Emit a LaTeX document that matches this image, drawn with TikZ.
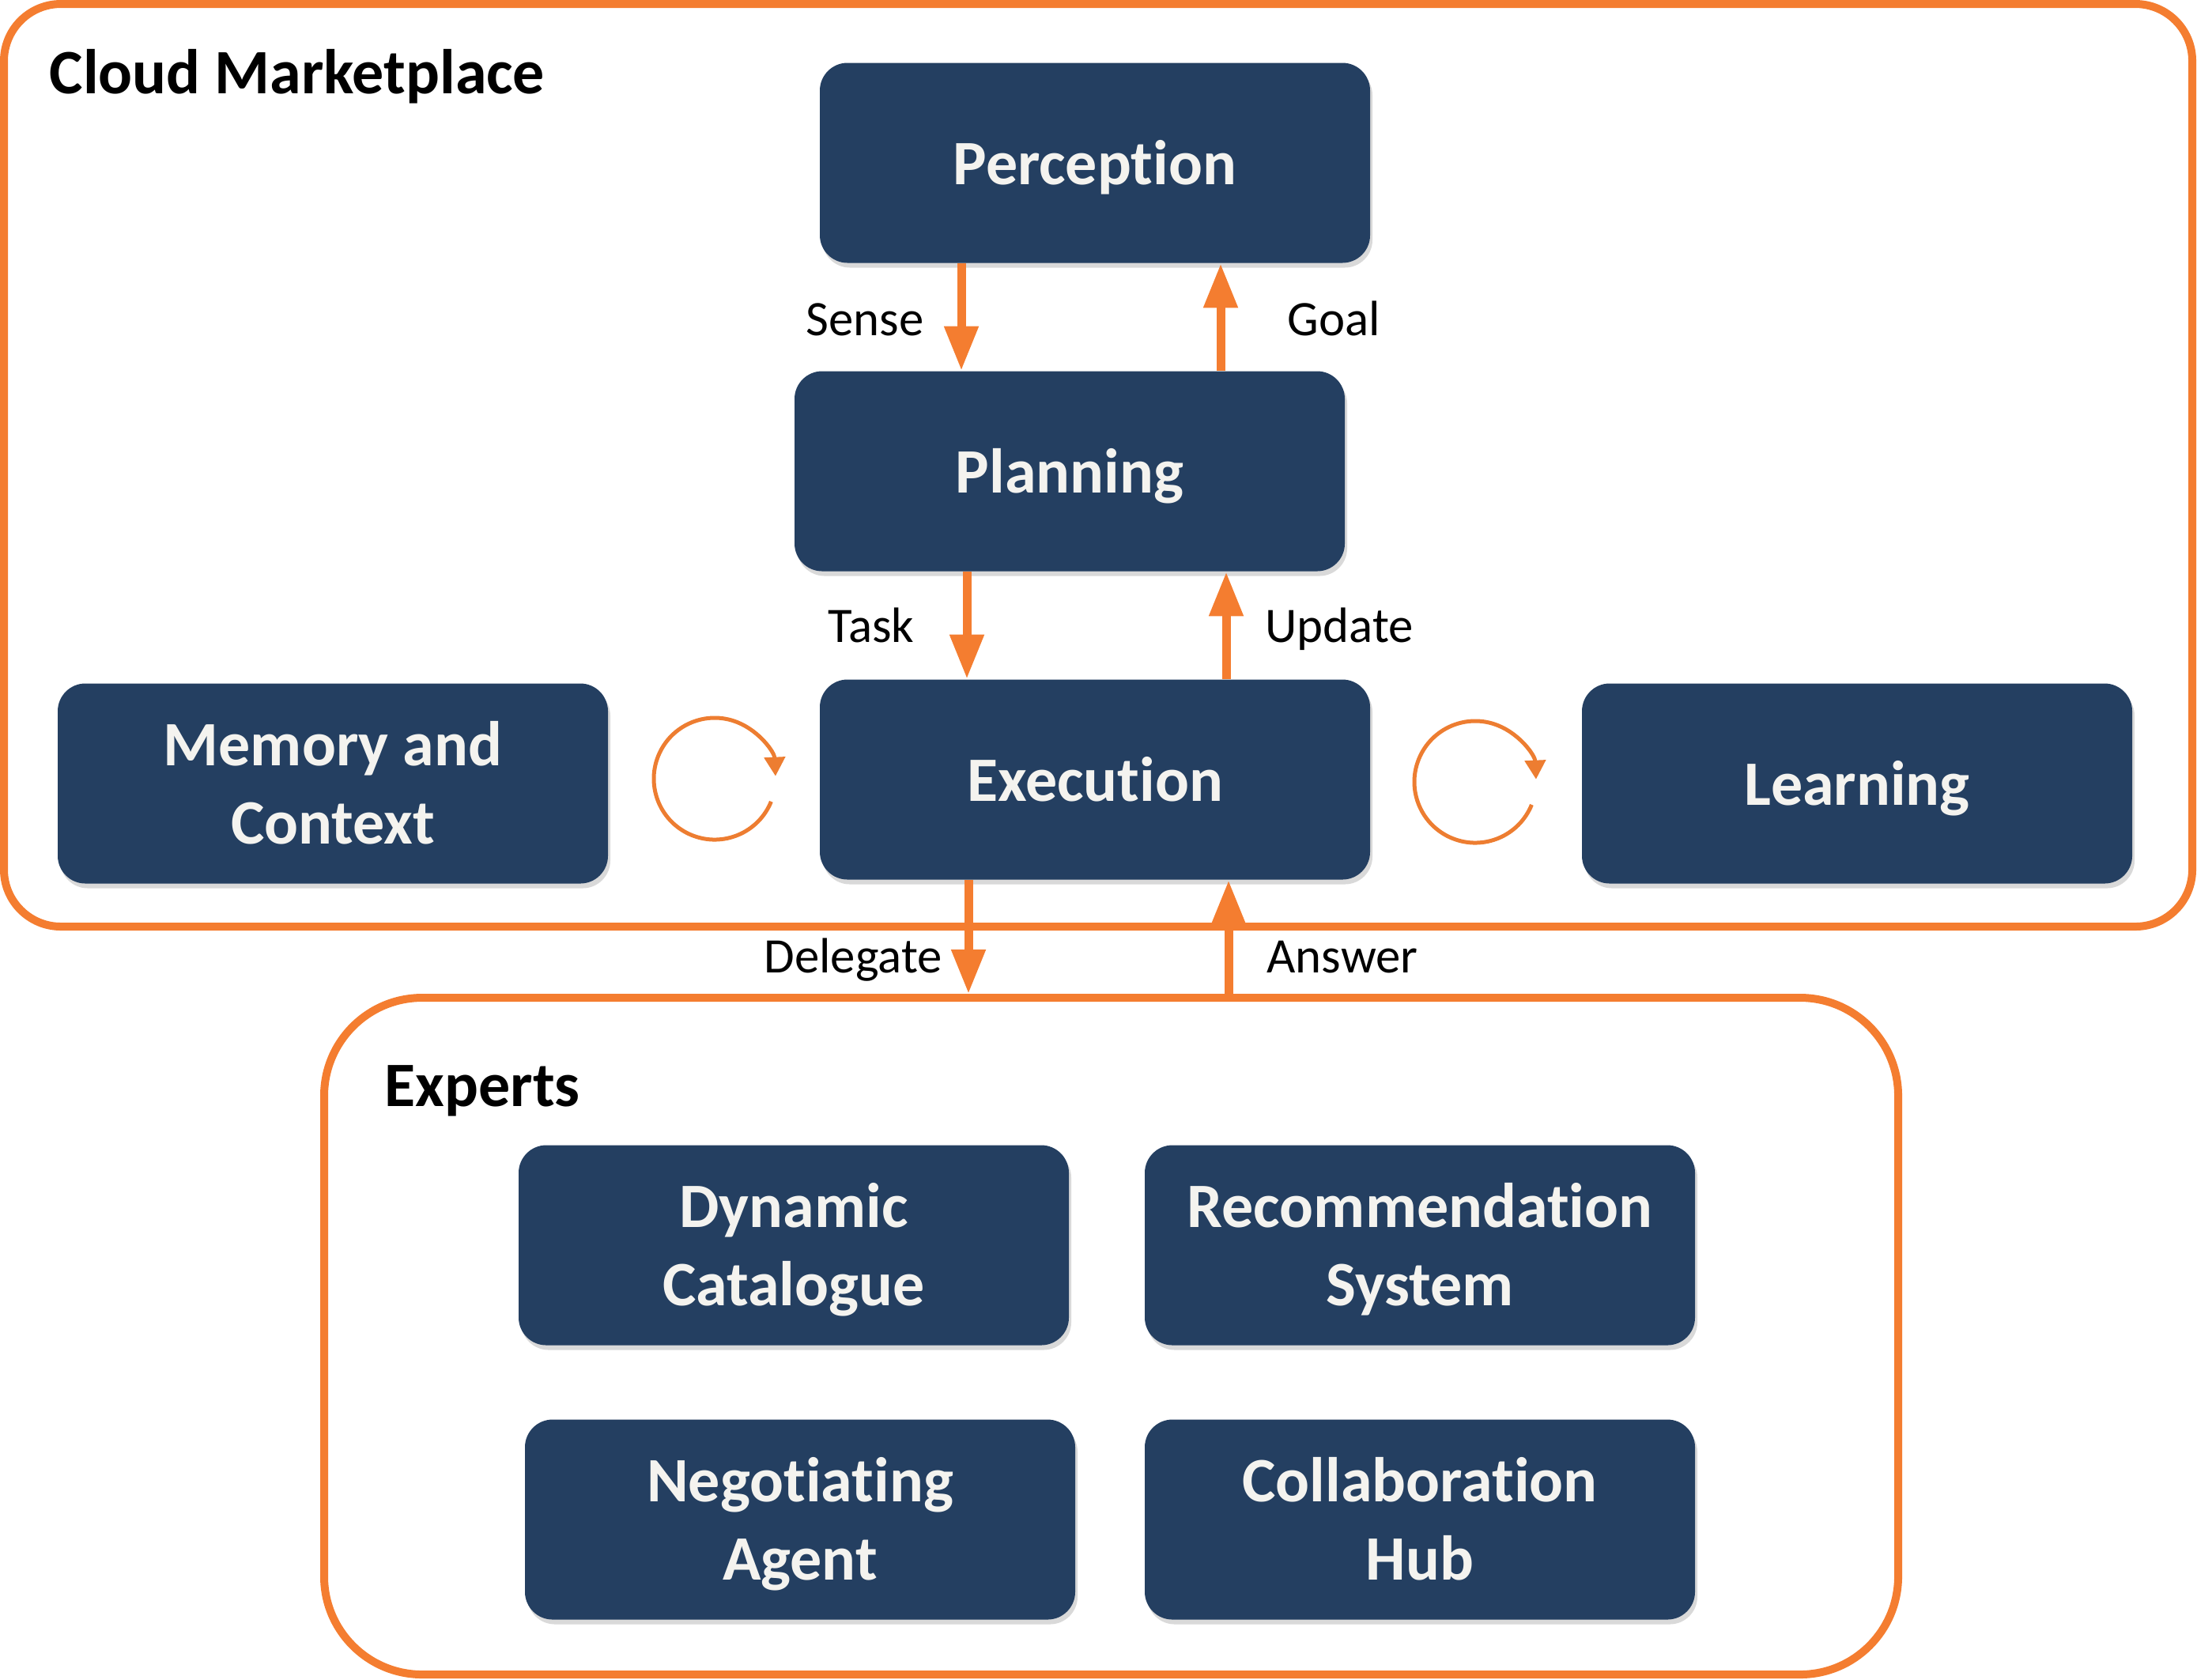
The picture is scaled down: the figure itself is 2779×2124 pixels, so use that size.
\documentclass[tikz,border=0pt]{standalone}
\usepackage{fontspec}
\setmainfont{Carlito}[Ligatures={NoCommon,NoContextual},Contextuals={NoAlternate}]
\usetikzlibrary{arrows.meta,shadows}
\definecolor{navy}{HTML}{243F61}
\definecolor{orng}{HTML}{F47D30}
\definecolor{corng}{HTML}{ED7D31}
\definecolor{ltxt}{HTML}{F4F3EF}
\begin{document}
\begin{tikzpicture}[x=0.25pt,y=-0.25pt,
  box/.style={fill=navy, rounded corners=8.75pt, minimum width=174pt, minimum height=63.25pt,
    text=ltxt, font=\fontsize{20}{24.75}\selectfont\bfseries, align=center, inner sep=0pt,
    drop shadow={shadow xshift=0.75pt, shadow yshift=-1.5pt, opacity=0.3}},
  one/.style={text height=19.04pt, text depth=5.38pt},
  two/.style={text height=43.79pt, text depth=5.38pt},
  frame/.style={draw=orng, line width=2.5pt, inner sep=0pt},
  arr/.style={draw=orng, line width=2.75pt, -{Triangle[length=14pt,width=10.25pt]}},
  lab/.style={font=\fontsize{15.7}{19}\selectfont, anchor=base, inner sep=0pt},
  ttl/.style={font=\fontsize{20}{24}\selectfont\bfseries, anchor=base west, inner sep=0pt},
  cyc/.style={draw=corng, line width=1.25pt, -{Triangle[length=6pt,width=6.5pt]}}]
\useasboundingbox (0,0) rectangle (2779,2124);
% frames
\node[frame, rounded corners=18pt, minimum width=692pt, minimum height=291.75pt] (cloud) at (1389,588.5) {};
\node[frame, rounded corners=31pt, minimum width=497.75pt, minimum height=214pt] (experts) at (1405.5,1690) {};
\node[ttl] (cloudt) at (62,118) {Cloud Marketplace};
\node[ttl] (expt) at (486,1399) {Experts};
% nodes
\node[box, one] (per) at (1385,206) {Percept\kern0pt ion};
\node[box, one] (pla) at (1353,596) {Planning};
\node[box, one] (exe) at (1385,986) {Execut\kern0pt ion};
\node[box, two] (mem) at (421,991) {Memory and\\Context};
\node[box, one] (lea) at (2349,991) {Learning};
\node[box, two] (dyn) at (1004,1575) {Dynamic\\Catalogue};
\node[box, two] (rec) at (1796,1575) {Recommendat\kern0pt ion\\System};
\node[box, two] (neg) at (1012,1922) {Negot\kern0pt iat\kern0pt ing\\Agent};
\node[box, two] (col) at (1796,1922) {Collaborat\kern0pt ion\\Hub};
% arrows
\draw[arr] (per.south -| 1216,0) -- (pla.north -| 1216,0);
\draw[arr] (pla.north -| 1544,0) -- (per.south -| 1544,0);
\draw[arr] (pla.south -| 1223,0) -- (exe.north -| 1223,0);
\draw[arr] (exe.north -| 1551,0) -- (pla.south -| 1551,0);
\draw[arr] (exe.south -| 1225,0) -- (experts.north -| 1225,0);
\draw[arr] (experts.north -| 1554,0) -- (exe.south -| 1554,0);
% labels
\node[lab] (lsense) at (1094,424) {Sense};
\node[lab] (lgoal) at (1687,424) {Goal};
\node[lab] (ltask) at (1102,812) {Task};
\node[lab] (lupd) at (1694,812) {Update};
\node[lab] (ldel) at (1079,1230) {Delegate};
\node[lab] (lans) at (1698,1230) {Answer};
% cycle arrows
\coordinate (lc) at (904,985);
\coordinate (rc) at (1866,989);
\draw[cyc] ([shift={(22:77)}]lc) arc[start angle=22, end angle=357.5, radius=77];
\draw[cyc] ([shift={(22:77)}]rc) arc[start angle=22, end angle=357.5, radius=77];
\end{tikzpicture}
\end{document}
